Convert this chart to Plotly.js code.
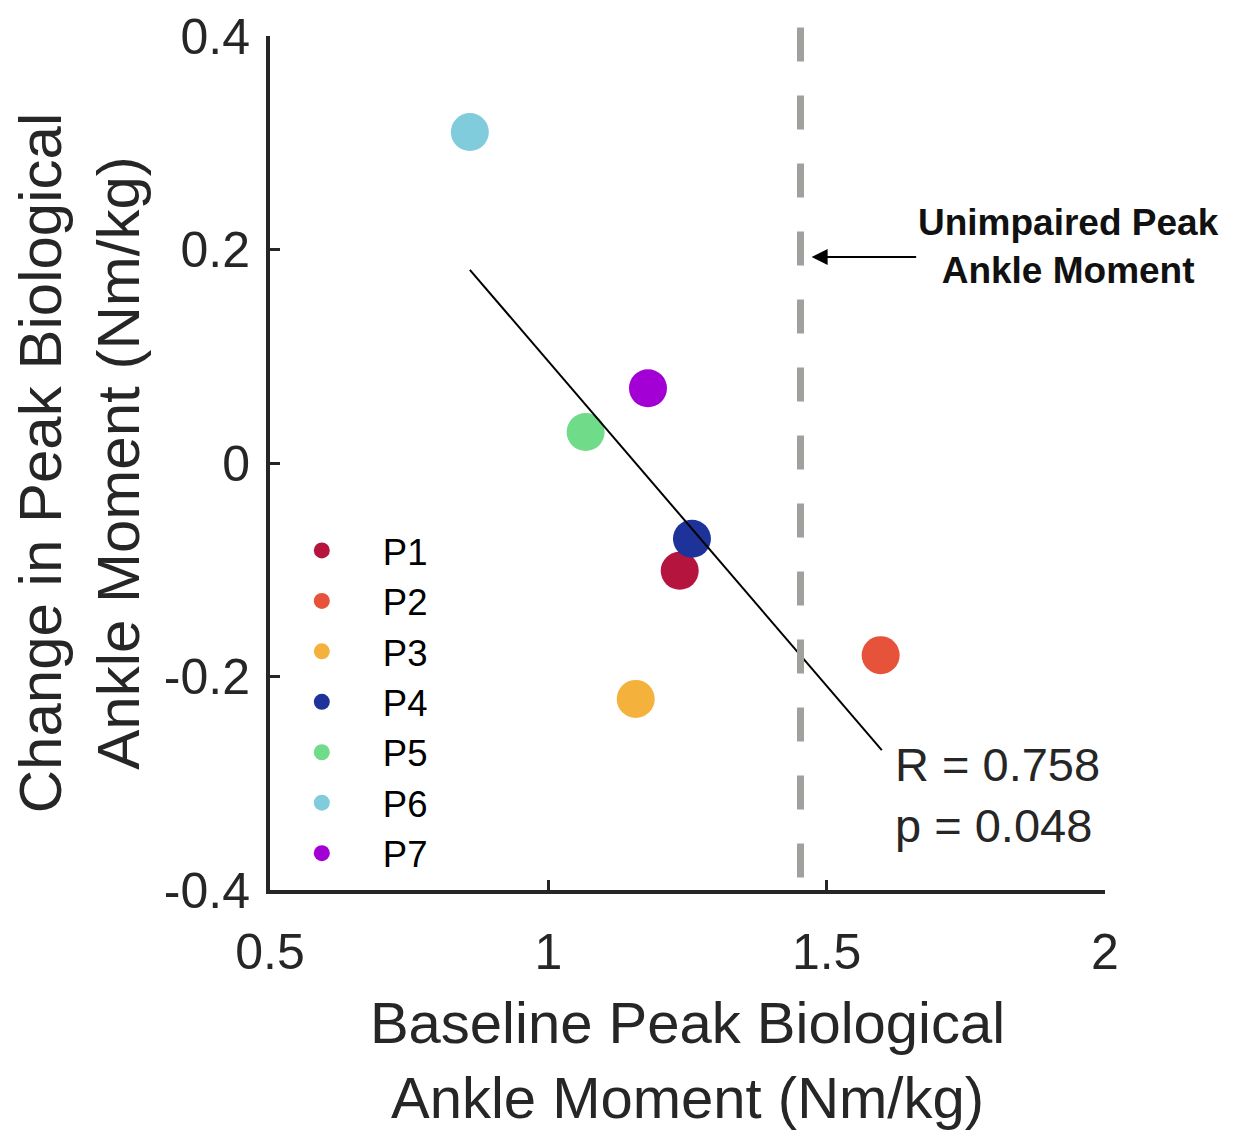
<!DOCTYPE html>
<html>
<head>
<meta charset="utf-8">
<script src="https://cdn.plot.ly/plotly-3.0.1.min.js"></script>
<style>html,body{margin:0;padding:0;background:#fff;}#chart{width:1243px;height:1130px;}</style>
</head>
<body>
<div id="chart"></div>
<script>
// Data
const participants = ["P1", "P2", "P3", "P4", "P5", "P6", "P7"];
const baselineMoment = [1.236, 1.597, 1.157, 1.258, 1.067, 0.859, 1.179];
const changeMoment = [-0.101, -0.180, -0.221, -0.071, 0.029, 0.310, 0.070];
const colors = ["#B5143F", "#E6523A", "#F4B23C", "#1E3399", "#70DC8A", "#80CCDC", "#A300D6"];
const fitX = [0.859, 1.599];
const fitY = [0.181, -0.269];
const unimpairedPeak = 1.453;
const xTickVals = [0.5, 1, 1.5, 2];
const xTickText = ["0.5", "1", "1.5", "2"];
const yTickVals = [-0.4, -0.2, 0, 0.2, 0.4];
const yTickText = ["-0.4", "-0.2", "0", "0.2", "0.4"];
const statsText = "R = 0.758<br>p = 0.048";

const ink = "#262626";
const traces = participants.map((p, i) => ({
  type: "scatter", mode: "markers", name: p,
  x: [baselineMoment[i]], y: [changeMoment[i]],
  marker: {color: colors[i], size: 38},
  cliponaxis: false
}));
traces.push({
  type: "scatter", mode: "lines", x: fitX, y: fitY, showlegend: false,
  line: {color: "#000", width: 2}, hoverinfo: "skip"
});

const layout = {
  width: 1243, height: 1130,
  margin: {l: 270, r: 138, t: 36, b: 240},
  paper_bgcolor: "#fff", plot_bgcolor: "#fff",
  font: {family: "Liberation Sans, Arial, sans-serif", color: ink},
  showlegend: true,
  legend: {
    x: -0.011, y: 0.433, xanchor: "left", yanchor: "top",
    font: {size: 36.5, color: "#000"}, itemwidth: 112,
    bgcolor: "rgba(0,0,0,0)", borderwidth: 0
  },
  xaxis: {
    range: [0.5, 2], tickvals: xTickVals, ticktext: xTickText,
    showline: true, linewidth: 4, linecolor: ink, mirror: false,
    ticks: "inside", ticklen: 10, tickwidth: 3, tickcolor: ink,
    showgrid: false, zeroline: false, ticklabelstandoff: 15,
    tickfont: {size: 50, color: ink},
    title: {text: "Baseline Peak Biological<br>Ankle Moment (Nm/kg)", font: {size: 58, color: ink}, standoff: 25},
    automargin: false
  },
  yaxis: {
    range: [-0.4, 0.4], tickvals: yTickVals, ticktext: yTickText,
    showline: true, linewidth: 4, linecolor: ink, mirror: false,
    ticks: "inside", ticklen: 10, tickwidth: 3, tickcolor: ink,
    showgrid: false, zeroline: false, ticklabelstandoff: 6,
    tickfont: {size: 50, color: ink},
    title: {text: "Change in Peak Biological<br>Ankle Moment (Nm/kg)", font: {size: 60, color: ink}, standoff: 6},
    automargin: false
  },
  shapes: [{
    type: "line", xref: "x", yref: "paper",
    x0: unimpairedPeak, x1: unimpairedPeak, y0: 1.01, y1: 0.005,
    line: {color: "#A0A09C", width: 7, dash: "34px,34px"}
  }],
  annotations: [
    {
      xref: "x", yref: "y", x: 1.473, y: 0.193, axref: "pixel", ayref: "pixel",
      ax: 106, ay: 0, text: "", showarrow: true, arrowhead: 2, arrowsize: 1.6,
      arrowwidth: 2, arrowcolor: "#000"
    },
    {
      xref: "x", yref: "y", x: 1.934, y: 0.203, showarrow: false,
      text: "<b>Unimpaired Peak<br>Ankle Moment</b>", align: "center",
      font: {size: 37, color: "#111"}
    },
    {
      xref: "x", yref: "y", x: 1.6185, y: -0.311, xanchor: "left", showarrow: false,
      text: statsText, align: "left", font: {size: 47, color: ink}
    }
  ]
};
Plotly.newPlot("chart", traces, layout, {displayModeBar: false, staticPlot: true});
</script>
</body>
</html>
